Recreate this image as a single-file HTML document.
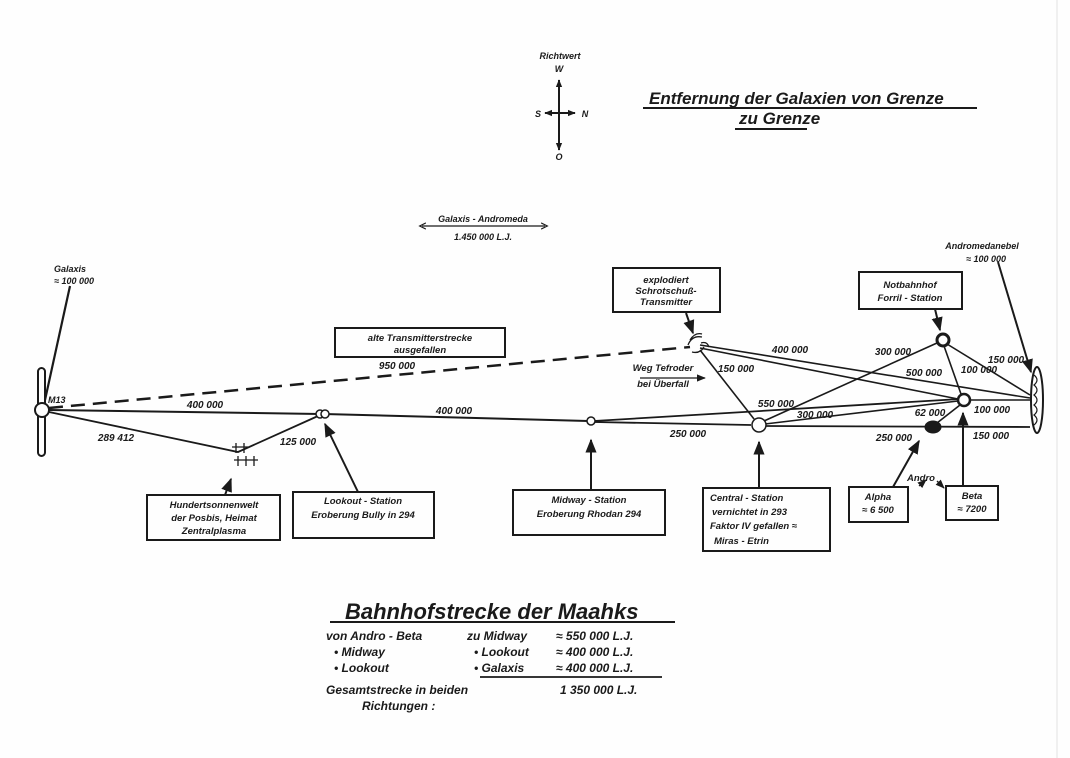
<!DOCTYPE html>
<html><head><meta charset="utf-8"><style>
html,body{margin:0;padding:0;background:#fefefe;}
svg{display:block}
text{font-family:"Liberation Sans",sans-serif;font-weight:bold;font-style:italic;fill:#1a1a1a;}
</style></head><body>
<svg width="1070" height="758" viewBox="0 0 1070 758" xmlns="http://www.w3.org/2000/svg">
<defs>
<marker id="a" viewBox="0 0 10 10" refX="9" refY="5" markerWidth="7" markerHeight="7" orient="auto-start-reverse"><path d="M0,1 L10,5 L0,9 z" fill="#1a1a1a"/></marker>
<marker id="s" viewBox="0 0 10 10" refX="9" refY="5" markerWidth="4" markerHeight="4" orient="auto-start-reverse"><path d="M0,1 L10,5 L0,9 z" fill="#1a1a1a"/></marker>
<marker id="o" viewBox="0 0 10 10" refX="5" refY="5" markerWidth="6" markerHeight="6" orient="auto-start-reverse"><path d="M0,1 L8,5 L0,9" fill="none" stroke="#1a1a1a" stroke-width="1.5"/></marker>
</defs>
<rect width="1070" height="758" fill="#fefefe"/>
<line x1="1057" y1="0" x2="1057" y2="758" stroke="#e2e2e2" stroke-width="1"/>
<g stroke="#1a1a1a" fill="none">
<line x1="559" y1="80" x2="559" y2="150" stroke-width="2" marker-start="url(#s)" marker-end="url(#s)"/>
<line x1="545" y1="113" x2="575" y2="113" stroke-width="2" marker-start="url(#s)" marker-end="url(#s)"/>
<line x1="643" y1="108" x2="977" y2="108" stroke-width="2"/>
<line x1="735" y1="129" x2="807" y2="129" stroke-width="2"/>
<line x1="422" y1="226" x2="545" y2="226" stroke-width="1.3" marker-start="url(#o)" marker-end="url(#o)"/>
<rect x="38" y="368" width="7" height="88" rx="3.5" stroke-width="2"/>
<circle cx="42" cy="410" r="7" fill="#fefefe" stroke-width="2"/>
<line x1="70" y1="286" x2="45" y2="400" stroke-width="2.2"/>
<line x1="49" y1="410" x2="320" y2="414" stroke-width="2"/>
<line x1="324" y1="414" x2="588" y2="421" stroke-width="2"/>
<line x1="594" y1="421" x2="960" y2="399" stroke-width="1.8"/>
<line x1="594" y1="422" x2="751" y2="425" stroke-width="1.8"/>
<line x1="766" y1="426" x2="1030" y2="427" stroke-width="1.8"/>
<line x1="49" y1="408" x2="690" y2="347" stroke-width="2.5" stroke-dasharray="14,8"/>
<polyline points="49,412 238,452 318,416" stroke-width="1.8"/>
<line x1="700" y1="345" x2="1030" y2="398" stroke-width="1.6"/>
<line x1="700" y1="348" x2="958" y2="399" stroke-width="1.6"/>
<line x1="700" y1="350" x2="754" y2="419" stroke-width="1.6"/>
<line x1="764" y1="421" x2="937" y2="343" stroke-width="1.6"/>
<line x1="765" y1="424" x2="958" y2="401" stroke-width="1.6"/>
<line x1="947" y1="344" x2="1030" y2="395" stroke-width="1.6"/>
<line x1="944" y1="346" x2="961" y2="394" stroke-width="1.6"/>
<line x1="968" y1="400" x2="1030" y2="400" stroke-width="1.6"/>
<line x1="960" y1="405" x2="937" y2="423" stroke-width="1.6"/>
<circle cx="320" cy="414" r="4" stroke-width="1.5" fill="#fefefe"/><circle cx="325" cy="414" r="4" stroke-width="1.5" fill="#fefefe"/>
<circle cx="591" cy="421" r="4" stroke-width="1.5" fill="#fefefe"/>
<circle cx="759" cy="425" r="7" stroke-width="1.5" fill="#fefefe"/>
<circle cx="943" cy="340" r="6" stroke-width="3" fill="#fefefe"/>
<circle cx="964" cy="400" r="6" stroke-width="2.5" fill="#fefefe"/>
<ellipse cx="933" cy="427" rx="8" ry="6" fill="#1a1a1a"/>
<ellipse cx="1037" cy="400" rx="6" ry="33" stroke-width="2"/>
<path d="M1034,375 q6,5 0,10 q6,5 0,10 q6,5 0,10 q6,5 0,10 q6,5 0,10" stroke-width="1.2"/>
<path d="M690,340 q5,-8 12,-6 M688,345 q4,-10 14,-8 M692,352 q8,2 12,-5 M701,343 q6,-2 8,4" stroke-width="1.3"/>
<g stroke-width="1.3"><path d="M236,443 v10 M232,447 h8 M244,443 v10 M240,447 h8 M238,456 v10 M234,460 h8 M246,456 v10 M242,460 h8 M254,456 v10 M250,460 h8"/></g>
<g stroke-width="2" fill="#fefefe">
<rect x="335" y="328" width="170" height="29"/>
<rect x="147" y="495" width="133" height="45"/>
<rect x="293" y="492" width="141" height="46"/>
<rect x="513" y="490" width="152" height="45"/>
<rect x="703" y="488" width="127" height="63"/>
<rect x="849" y="487" width="59" height="35"/>
<rect x="946" y="486" width="52" height="34"/>
<rect x="613" y="268" width="107" height="44"/>
<rect x="859" y="272" width="103" height="37"/>
</g>
<g stroke-width="2">
<line x1="225" y1="495" x2="231" y2="479" marker-end="url(#a)"/>
<line x1="358" y1="492" x2="325" y2="424" marker-end="url(#a)"/>
<line x1="591" y1="490" x2="591" y2="440" marker-end="url(#a)"/>
<line x1="759" y1="488" x2="759" y2="442" marker-end="url(#a)"/>
<line x1="893" y1="487" x2="919" y2="441" marker-end="url(#a)"/>
<line x1="963" y1="486" x2="963" y2="413" marker-end="url(#a)"/>
<line x1="686" y1="313" x2="693" y2="333" marker-end="url(#a)"/>
<line x1="935" y1="309" x2="940" y2="330" marker-end="url(#a)"/>
<line x1="998" y1="262" x2="1031" y2="372" marker-end="url(#a)"/>
<line x1="919" y1="486" x2="926" y2="480" stroke-width="1.3" marker-end="url(#a)"/>
<line x1="937" y1="481" x2="944" y2="488" stroke-width="1.3" marker-end="url(#a)"/>
<line x1="640" y1="378" x2="705" y2="378" stroke-width="1.3" marker-end="url(#a)"/>
</g>
<line x1="330" y1="622" x2="675" y2="622" stroke-width="2"/>
<line x1="480" y1="677" x2="662" y2="677" stroke-width="1.8"/>
</g>
<g font-size="10">
<text x="560" y="59" text-anchor="middle" font-size="9">Richtwert</text>
<text x="559" y="72" text-anchor="middle" font-size="9">W</text>
<text x="538" y="117" text-anchor="middle" font-size="9">S</text>
<text x="585" y="117" text-anchor="middle" font-size="9">N</text>
<text x="559" y="160" text-anchor="middle" font-size="9">O</text>
<text x="649" y="104" font-size="17" font-weight="normal">Entfernung  der Galaxien von Grenze</text>
<text x="739" y="124" font-size="17" font-weight="normal">zu Grenze</text>
<text x="483" y="222" text-anchor="middle" font-size="9">Galaxis - Andromeda</text>
<text x="483" y="240" text-anchor="middle" font-size="9">1.450 000  L.J.</text>
<text x="70" y="272" text-anchor="middle" font-size="9">Galaxis</text>
<text x="74" y="284" text-anchor="middle" font-size="9">≈ 100 000</text>
<text x="48" y="403" font-size="9" font-weight="normal">M13</text>
<text x="420" y="341" text-anchor="middle" font-size="9.5">alte Transmitterstrecke</text>
<text x="420" y="353" text-anchor="middle" font-size="9.5">ausgefallen</text>
<text x="397" y="369" text-anchor="middle">950 000</text>
<text x="205" y="408" text-anchor="middle">400 000</text>
<text x="116" y="441" text-anchor="middle">289 412</text>
<text x="298" y="445" text-anchor="middle">125 000</text>
<text x="454" y="414" text-anchor="middle">400 000</text>
<text x="688" y="437" text-anchor="middle">250 000</text>
<text x="666" y="283" text-anchor="middle" font-size="9.5">explodiert</text>
<text x="666" y="294" text-anchor="middle" font-size="9.5">Schrotschuß-</text>
<text x="666" y="305" text-anchor="middle" font-size="9.5">Transmitter</text>
<text x="910" y="288" text-anchor="middle" font-size="9.5">Notbahnhof</text>
<text x="910" y="301" text-anchor="middle" font-size="9.5">Forril - Station</text>
<text x="982" y="249" text-anchor="middle" font-size="9">Andromedanebel</text>
<text x="986" y="262" text-anchor="middle" font-size="9">≈ 100 000</text>
<text x="790" y="353" text-anchor="middle">400 000</text>
<text x="663" y="371" text-anchor="middle" font-size="9.5">Weg Tefroder</text>
<text x="663" y="387" text-anchor="middle" font-size="9.5">bei Überfall</text>
<text x="736" y="372" text-anchor="middle">150 000</text>
<text x="776" y="407" text-anchor="middle">550 000</text>
<text x="815" y="418" text-anchor="middle">300 000</text>
<text x="893" y="355" text-anchor="middle">300 000</text>
<text x="924" y="376" text-anchor="middle">500 000</text>
<text x="979" y="373" text-anchor="middle">100 000</text>
<text x="1006" y="363" text-anchor="middle">150 000</text>
<text x="992" y="413" text-anchor="middle">100 000</text>
<text x="930" y="416" text-anchor="middle">62 000</text>
<text x="894" y="441" text-anchor="middle">250 000</text>
<text x="991" y="439" text-anchor="middle">150 000</text>
<text x="921" y="481" text-anchor="middle" font-size="9.5">Andro</text>
<text x="214" y="508" text-anchor="middle" font-size="9.5">Hundertsonnenwelt</text>
<text x="214" y="521" text-anchor="middle" font-size="9.5">der Posbis, Heimat</text>
<text x="214" y="534" text-anchor="middle" font-size="9.5">Zentralplasma</text>
<text x="363" y="504" text-anchor="middle" font-size="9.5">Lookout - Station</text>
<text x="363" y="518" text-anchor="middle" font-size="9.5">Eroberung Bully in 294</text>
<text x="589" y="503" text-anchor="middle" font-size="9.5">Midway - Station</text>
<text x="589" y="517" text-anchor="middle" font-size="9.5">Eroberung Rhodan 294</text>
<text x="710" y="501" font-size="9.5">Central - Station</text>
<text x="712" y="515" font-size="9.5">vernichtet in 293</text>
<text x="710" y="529" font-size="9.5">Faktor IV gefallen ≈</text>
<text x="714" y="544" font-size="9.5">Miras - Etrin</text>
<text x="878" y="500" text-anchor="middle" font-size="9.5">Alpha</text>
<text x="878" y="513" text-anchor="middle" font-size="9.5">≈ 6 500</text>
<text x="972" y="499" text-anchor="middle" font-size="9.5">Beta</text>
<text x="972" y="512" text-anchor="middle" font-size="9.5">≈ 7200</text>
</g>
<g font-size="12">
<text x="345" y="619" font-size="22" font-weight="normal">Bahnhofstrecke  der  Maahks</text>
<text x="326" y="640">von Andro - Beta</text>
<text x="467" y="640">zu Midway</text>
<text x="556" y="640">≈ 550 000 L.J.</text>
<text x="334" y="656">•   Midway</text>
<text x="474" y="656">•  Lookout</text>
<text x="556" y="656">≈ 400 000 L.J.</text>
<text x="334" y="672">•   Lookout</text>
<text x="474" y="672">•  Galaxis</text>
<text x="556" y="672">≈ 400 000 L.J.</text>
<text x="326" y="694">Gesamtstrecke in beiden</text>
<text x="560" y="694">1 350  000 L.J.</text>
<text x="362" y="710">Richtungen :</text>
</g>
</svg>
</body></html>
